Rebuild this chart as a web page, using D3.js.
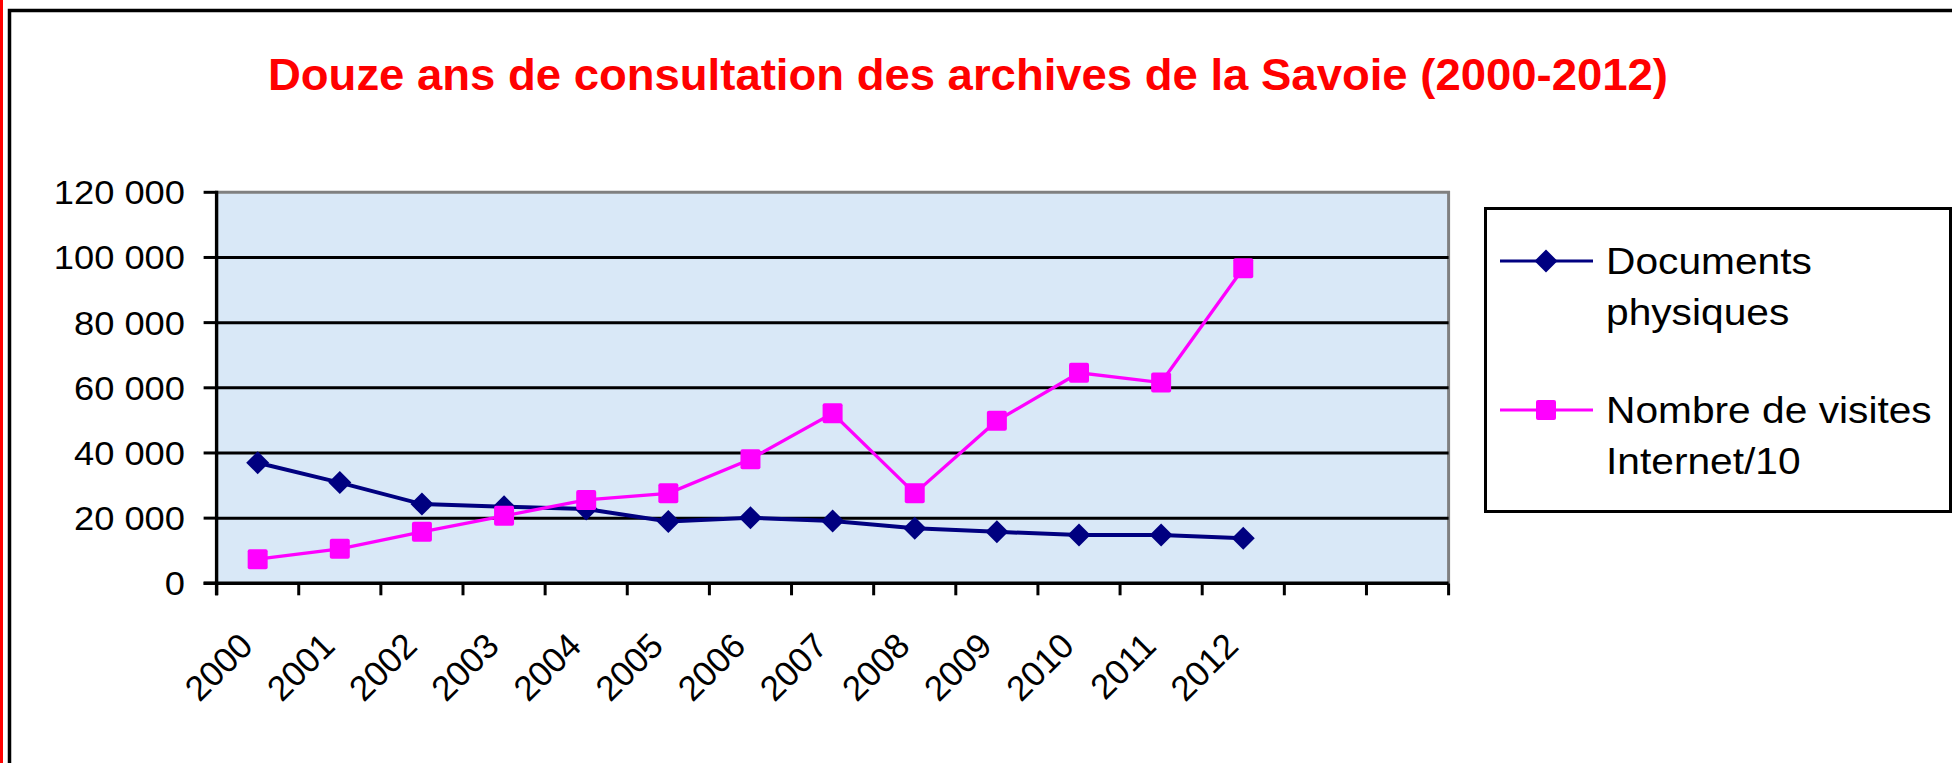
<!DOCTYPE html>
<html>
<head>
<meta charset="utf-8">
<script src="https://cdn.jsdelivr.net/npm/d3@7"></script>
<style>
  html, body { margin: 0; padding: 0; background: #fff; }
  svg { display: block; font-family: "Liberation Sans", Arial, sans-serif; }
</style>
</head>
<body>
<div id="chart"></div>
<script>
// data
var years = ["2000", "2001", "2002", "2003", "2004", "2005", "2006",
             "2007", "2008", "2009", "2010", "2011", "2012"];
var emptySlots = ["_a", "_b"];   // two empty categories at the right of the axis
var documentsPhysiques = [37000, 30900, 24300, 23500, 22800, 19000, 20100,
                          19100, 16900, 15800, 14800, 14800, 13800];
var visitesInternet10 = [7400, 10600, 15800, 20700, 25600, 27600, 38100,
                         52200, 27600, 49900, 64600, 61600, 96700];
var yTicks = [0, 20000, 40000, 60000, 80000, 100000, 120000];

var title = "Douze ans de consultation des archives de la Savoie (2000-2012)";

var series = [
    { name: ["Documents", "physiques"], values: documentsPhysiques, color: "#000080", marker: "diamond" },
    { name: ["Nombre de visites", "Internet/10"], values: visitesInternet10, color: "#ff00ff", marker: "square" }
];

var width = 1952;
var height = 763;

var plot = { left: 216.6, top: 192.3, right: 1448.6, bottom: 583.3 };

var svg = d3.select("#chart").append("svg")
    .attr("width", width)
    .attr("height", height);

// page frame
svg.append("line")
    .attr("x1", 1.5).attr("x2", 1.5).attr("y1", 0).attr("y2", height)
    .attr("stroke", "#ff0000").attr("stroke-width", 3);
svg.append("rect")
    .attr("x", 9.5).attr("y", 10.5)
    .attr("width", width + 20).attr("height", height + 20)
    .attr("fill", "none").attr("stroke", "#000").attr("stroke-width", 3.5);

// title
svg.append("text")
    .attr("x", 268).attr("y", 90)
    .attr("fill", "#ff0000")
    .attr("font-size", 45)
    .attr("font-weight", "bold")
    .attr("textLength", 1400)
    .attr("lengthAdjust", "spacingAndGlyphs")
    .text(title);

var x = d3.scaleBand()
    .domain(years.concat(emptySlots))
    .range([plot.left, plot.right]);

var y = d3.scaleLinear()
    .domain([0, 120000])
    .range([plot.bottom, plot.top]);

var fmt = d3.formatLocale({ decimal: ",", thousands: " ", grouping: [3], currency: ["", ""] }).format(",d");

// plot background
svg.append("rect")
    .attr("x", plot.left).attr("y", plot.top)
    .attr("width", plot.right - plot.left)
    .attr("height", plot.bottom - plot.top)
    .attr("fill", "#d9e8f7");

// top and right border in grey
svg.append("path")
    .attr("d", "M" + plot.left + "," + plot.top + "H" + plot.right + "V" + plot.bottom)
    .attr("fill", "none").attr("stroke", "#808080").attr("stroke-width", 3);

// gridlines
svg.append("g").selectAll("line")
    .data(yTicks.filter(function(d) { return d > 0 && d < 120000; }))
    .enter().append("line")
    .attr("x1", plot.left).attr("x2", plot.right)
    .attr("y1", function(d) { return y(d); })
    .attr("y2", function(d) { return y(d); })
    .attr("stroke", "#000").attr("stroke-width", 3);

// y axis
var yAxis = svg.append("g");
yAxis.append("line")
    .attr("x1", plot.left).attr("x2", plot.left)
    .attr("y1", plot.top - 1.5).attr("y2", plot.bottom + 12)
    .attr("stroke", "#000").attr("stroke-width", 3.4);
yAxis.selectAll(".tick")
    .data(yTicks)
    .enter().append("line")
    .attr("x1", plot.left - 13).attr("x2", plot.left)
    .attr("y1", function(d) { return y(d); })
    .attr("y2", function(d) { return y(d); })
    .attr("stroke", "#000").attr("stroke-width", 3);
yAxis.selectAll("text")
    .data(yTicks)
    .enter().append("text")
    .attr("x", 185)
    .attr("y", function(d) { return y(d); })
    .attr("dy", "0.36em")
    .attr("text-anchor", "end")
    .attr("font-size", 33)
    .attr("fill", "#000")
    .text(function(d) { return fmt(d); })
    .each(function() {
        var w = this.getComputedTextLength();
        d3.select(this).attr("textLength", w * 1.1).attr("lengthAdjust", "spacingAndGlyphs");
    });

// x axis
var xAxis = svg.append("g");
xAxis.append("line")
    .attr("x1", plot.left - 13).attr("x2", plot.right)
    .attr("y1", plot.bottom).attr("y2", plot.bottom)
    .attr("stroke", "#000").attr("stroke-width", 3.4);
var boundaries = x.domain().map(function(d) { return x(d); }).concat([plot.right]);
xAxis.selectAll(".tick")
    .data(boundaries)
    .enter().append("line")
    .attr("x1", function(d) { return d; }).attr("x2", function(d) { return d; })
    .attr("y1", plot.bottom).attr("y2", plot.bottom + 12)
    .attr("stroke", "#000").attr("stroke-width", 3);
xAxis.selectAll("text")
    .data(years)
    .enter().append("text")
    .attr("transform", function(d) {
        return "translate(" + (x(d) + x.bandwidth() / 2 - 3) + "," + 648 + ") rotate(-45)";
    })
    .attr("text-anchor", "end")
    .attr("font-size", 35)
    .attr("fill", "#000")
    .text(function(d) { return d; });

// lines and markers
var line = d3.line()
    .x(function(d, i) { return x(years[i]) + x.bandwidth() / 2; })
    .y(function(d) { return y(d); });

function drawMarker(g, type, color) {
    if (type === "diamond") {
        g.append("path")
            .attr("d", "M0,-11.5L11.5,0L0,11.5L-11.5,0Z")
            .attr("fill", color);
    } else {
        g.append("rect")
            .attr("x", -10).attr("y", -10)
            .attr("width", 20).attr("height", 20)
            .attr("rx", 2)
            .attr("fill", color);
    }
}

series.forEach(function(s) {
    svg.append("path")
        .datum(s.values)
        .attr("d", line)
        .attr("fill", "none")
        .attr("stroke", s.color)
        .attr("stroke-width", s.marker === "diamond" ? 4 : 3.3);
});

series.forEach(function(s) {
    svg.append("g").selectAll("g")
        .data(s.values)
        .enter().append("g")
        .attr("transform", function(d, i) {
            return "translate(" + (x(years[i]) + x.bandwidth() / 2) + "," + y(d) + ")";
        })
        .each(function() { drawMarker(d3.select(this), s.marker, s.color); });
});

// legend
var legend = svg.append("g");
legend.append("rect")
    .attr("x", 1485.5).attr("y", 208.5)
    .attr("width", 465).attr("height", 303)
    .attr("fill", "#fff").attr("stroke", "#000").attr("stroke-width", 3);

var legendRows = [261, 410];
series.forEach(function(s, i) {
    var ly = legendRows[i];
    legend.append("line")
        .attr("x1", 1500).attr("x2", 1593)
        .attr("y1", ly).attr("y2", ly)
        .attr("stroke", s.color).attr("stroke-width", 3);
    drawMarker(legend.append("g").attr("transform", "translate(1546," + ly + ")"), s.marker, s.color);
    s.name.forEach(function(t, j) {
        legend.append("text")
            .attr("x", 1606)
            .attr("y", ly + 12.5 + j * 51)
            .attr("font-size", 37)
            .attr("fill", "#000")
            .text(t)
            .each(function() {
                var w = this.getComputedTextLength();
                d3.select(this).attr("textLength", w * 1.1).attr("lengthAdjust", "spacingAndGlyphs");
            });
    });
});
</script>
</body>
</html>
